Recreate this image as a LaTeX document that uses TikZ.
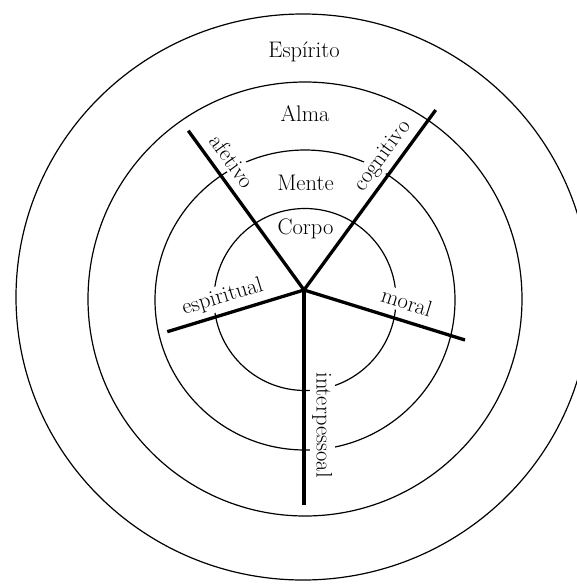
\documentclass[tikz,border=0pt]{standalone}
\tikzset{
  ring/.style={draw=black, line width=1.2pt},
  spoke/.style={draw=black, line width=3.3pt},
  lbl/.style={font=\fontsize{22.5}{26}\selectfont, inner sep=0pt},
  gaplbl/.style={lbl, fill=white, inner sep=2.5pt},
}
\begin{document}
\begin{tikzpicture}[x=1pt,y=-1pt]
\useasboundingbox (0,0) rectangle (577,584);
\begin{scope}
\clip (0,0) rectangle (577,584);
\draw[ring] (303,297) ellipse [x radius=287, y radius=283];
\end{scope}
\draw[ring] (305,299) circle [radius=217];
\draw[ring] (305,300) circle [radius=150];
\draw[ring] (305,299.5) circle [radius=91];

\coordinate (O) at (304,290);
\coordinate (A) at (188.3,130.7);
\coordinate (C) at (435.7,110);
\coordinate (E) at (167.3,331.7);
\coordinate (M) at (465,340);
\coordinate (I) at (304,505);

\node[lbl, anchor=base] (esp) at (304,57.3) {Espírito};
\node[lbl, anchor=base] (alma) at (305,121.7) {Alma};
\node[lbl, anchor=base] (mente) at (305.5,190) {Mente};
\node[lbl, anchor=base] (corpo) at (305.5,234) {Corpo};

\node[gaplbl, anchor=base, rotate=-54] (afet) at (226,165.6) {afetivo};
\node[gaplbl, anchor=base, rotate=53.8] (cogn) at (387.2,159.3) {cognitivo};
\node[gaplbl, anchor=base, rotate=17] (espi) at (224.3,302.8) {espiritual};
\node[gaplbl, anchor=base, rotate=-17.3] (mor) at (404.5,309.5) {moral};
\node[gaplbl, anchor=base, rotate=-90] (inter) at (316.5,425) {interpessoal};

\draw[spoke] (O) -- (A);
\draw[spoke] (O) -- (C);
\draw[spoke] (O) -- (E);
\draw[spoke] (O) -- (M);
\draw[spoke] (O) -- (I);
\end{tikzpicture}
\end{document}
